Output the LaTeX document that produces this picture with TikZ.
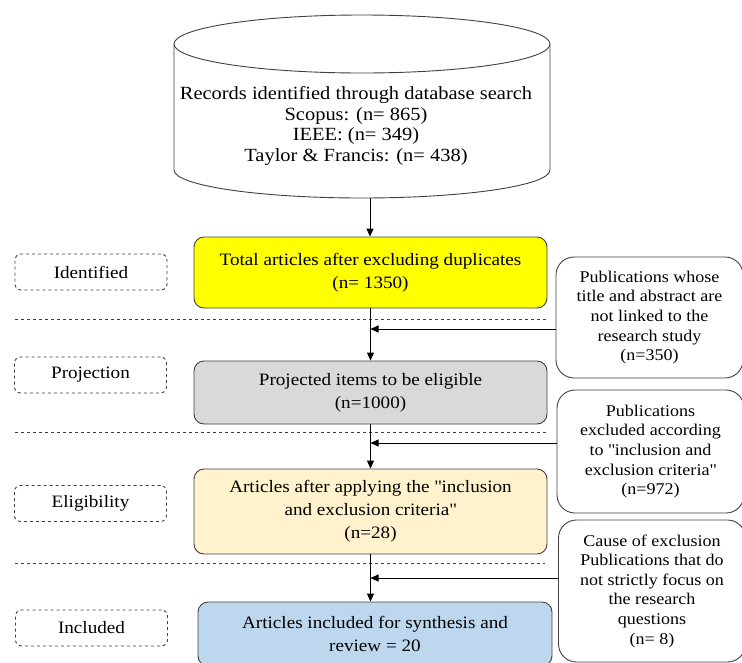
\documentclass[tikz,border=0pt]{standalone}
\usepackage{fontspec}
\setmainfont{Liberation Serif}[FakeStretch=1.1]
\usetikzlibrary{arrows.meta}
\definecolor{bord}{HTML}{404040}
\definecolor{cyel}{HTML}{FFFF00}
\definecolor{cgray}{HTML}{D9D9D9}
\definecolor{cbeige}{HTML}{FFF2CC}
\definecolor{cblue}{HTML}{BDD7EE}
\newcommand{\qq}{\textquotedbl}
\begin{document}
\begin{tikzpicture}[x=1pt,y=-1pt,
  txt/.style={align=center, font=\fontsize{17.4}{23}\selectfont},
  mainbox/.style={txt, draw=bord, line width=0.9pt, rounded corners=10pt, minimum width=353pt, inner sep=0pt},
  sidebox/.style={align=center, font=\fontsize{16.4}{19.6}\selectfont, draw=bord, line width=0.9pt, rounded corners=18pt, minimum width=187pt, inner sep=0pt},
  phase/.style={txt, draw=bord, dashed, line width=0.9pt, rounded corners=6pt, minimum width=152pt, minimum height=36pt, inner sep=0pt},
  arr/.style={-{Triangle[length=8pt,width=7pt]}, line width=0.9pt, black},
  divider/.style={dashed, line width=0.8pt, bord}]
\useasboundingbox (0,0) rectangle (742,662);
\clip (0,0) rectangle (742,662);
% cylinder
\draw[line width=0.9pt, draw=bord, fill=white] (174,44) -- (174,170) arc[start angle=180, end angle=360, x radius=188pt, y radius=28pt] -- (550,44);
\draw[line width=0.9pt, draw=bord, fill=white] (362,44) ellipse [x radius=188pt, y radius=29pt];
\node[align=center, font=\fontsize{18.6}{20.8}\selectfont] (db) at (356,126) {Records identified through database search\\Scopus: (n= 865)\\IEEE: (n= 349)\\Taylor \& Francis: (n= 438)};
\coordinate (dbbot) at (370,198);
% main boxes
\node[mainbox, fill=cyel, minimum height=71pt] (tot) at (370.5,272.5) {Total articles after excluding duplicates\\(n= 1350)};
\node[mainbox, fill=cgray, minimum height=63pt] (proj) at (370.5,392.5) {Projected items to be eligible\\(n=1000)};
\node[mainbox, fill=cbeige, minimum height=85pt] (elig) at (370.5,511.5) {Articles after applying the \qq inclusion\\and exclusion criteria\qq\\(n=28)};
\node[mainbox, fill=cblue, minimum height=64pt, minimum width=354pt] (incl) at (375,634) {Articles included for synthesis and\\review = 20};
% phase labels
\node[phase] (p1) at (91,272) {Identified};
\node[phase] (p2) at (90.5,375) {Projection};
\node[phase] (p3) at (90.5,503.5) {Eligibility};
\node[phase] (p4) at (91.5,628) {Included};
% side boxes
\node[sidebox, minimum height=121pt] (r1) at (649.5,317.5) {Publications whose\\title and abstract are\\not linked to the\\research study\\(n=350)};
\node[sidebox, minimum height=123pt] (r2) at (650.5,451.5) {Publications\\excluded according\\to \qq inclusion and\\exclusion criteria\qq\\(n=972)};
\node[sidebox, minimum height=142pt] (r3) at (652,591) {Cause of exclusion\\Publications that do\\not strictly focus on\\the research\\questions\\(n= 8)};
% dividers
\draw[divider] (15,319) -- (547,319);
\draw[divider] (15,432) -- (547,432);
\draw[divider] (15,563) -- (545,563);
% vertical arrows
\draw[arr] (dbbot) -- (dbbot |- tot.north);
\draw[arr] (tot.south) -- (proj.north);
\draw[arr] (proj.south) -- (elig.north);
\draw[arr] (elig.south) -- (elig.south |- incl.north);
% side arrows
\coordinate (j1) at (370.5,329);
\coordinate (j2) at (370.5,443);
\coordinate (j3) at (370.5,578);
\draw[arr] (r1.west |- j1) -- (j1);
\draw[arr] (r2.west |- j2) -- (j2);
\draw[arr] (r3.west |- j3) -- (j3);
\end{tikzpicture}
\end{document}
